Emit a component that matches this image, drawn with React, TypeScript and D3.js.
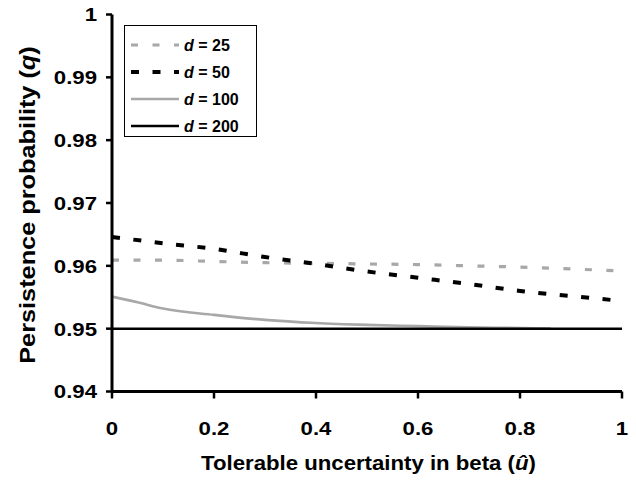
import React from "react";
import * as d3 from "d3";

const xs = [0, 0.1, 0.2, 0.3, 0.4, 0.5, 0.6, 0.7, 0.8, 0.9, 1.0];
const d25 = [0.9609, 0.9609, 0.9607, 0.9605, 0.9604, 0.9603, 0.9602, 0.96, 0.9598, 0.9595, 0.9592];
const d50 = [0.9646, 0.9636, 0.9627, 0.9614, 0.9603, 0.9591, 0.9581, 0.9571, 0.956, 0.9552, 0.9544];
const xs100 = [0, 0.05, 0.1, 0.2, 0.3, 0.4, 0.5, 0.6, 0.7, 0.8, 0.86];
const d100 = [0.9551, 0.9542, 0.9532, 0.9522, 0.9514, 0.9509, 0.9506, 0.9504, 0.9502, 0.9501, 0.95];
const d200 = [0.95, 0.95, 0.95, 0.95, 0.95, 0.95, 0.95, 0.95, 0.95, 0.95, 0.95];

const xTicks = [0, 0.2, 0.4, 0.6, 0.8, 1];
const xTickLabels = ["0", "0.2", "0.4", "0.6", "0.8", "1"];
const yTicks = [0.94, 0.95, 0.96, 0.97, 0.98, 0.99, 1];
const yTickLabels = ["0.94", "0.95", "0.96", "0.97", "0.98", "0.99", "1"];
const legendLabels = ["25", "50", "100", "200"];

const FONT = "'Liberation Sans', Arial, sans-serif";
const SX = 1.17;

export default function App() {
  const W = 636, H = 483;
  const x = d3.scaleLinear().domain([0, 1]).range([112, 622]);
  const y = d3.scaleLinear().domain([0.94, 1]).range([391.5, 14.5]);
  const line = (xv: number[], yv: number[]) =>
    d3.line<number>().x((_, i) => x(xv[i])).y((v) => y(v)).curve(d3.curveMonotoneX)(yv) || "";

  const series = [
    { key: "25", xv: xs, yv: d25, stroke: "#a8a8a8", w: 3.2, dash: "7,14.5" },
    { key: "50", xv: xs, yv: d50, stroke: "#000", w: 4, dash: "8,13.5" },
    { key: "100", xv: xs100, yv: d100, stroke: "#a8a8a8", w: 2.6, dash: undefined },
    { key: "200", xv: xs, yv: d200, stroke: "#000", w: 2.5, dash: undefined },
  ];
  const drawOrder = [2, 3, 0, 1];

  return (
    <svg width={W} height={H} style={{ display: "block", position: "absolute", left: 0, top: 0, background: "#fff" }}>
      <rect x={0} y={0} width={W} height={H} fill="#fff" />
      {drawOrder.map((i) => {
        const s = series[i];
        return (
          <path key={s.key} d={line(s.xv, s.yv)} fill="none" stroke={s.stroke}
            strokeWidth={s.w} strokeDasharray={s.dash} />
        );
      })}
      {/* axes */}
      <line x1={x(0)} x2={x(0)} y1={y(1)} y2={y(0.94)} stroke="#000" strokeWidth={3} />
      <line x1={x(0)} x2={x(1)} y1={y(0.94)} y2={y(0.94)} stroke="#000" strokeWidth={3} />
      {yTicks.map((t, i) => (
        <g key={"y" + i}>
          <line x1={x(0) - 6} x2={x(0)} y1={y(t)} y2={y(t)} stroke="#000" strokeWidth={2.5} />
          <text transform={`translate(97,${y(t)}) scale(${SX},1)`} dy="0.36em" textAnchor="end"
            fontFamily={FONT} fontWeight="bold" fontSize={19}>
            {yTickLabels[i]}
          </text>
        </g>
      ))}
      {xTicks.map((t, i) => (
        <g key={"x" + i}>
          <line x1={x(t)} x2={x(t)} y1={y(0.94)} y2={y(0.94) + 7} stroke="#000" strokeWidth={2.5} />
          <text transform={`translate(${x(t)},435) scale(${SX},1)`} textAnchor="middle"
            fontFamily={FONT} fontWeight="bold" fontSize={19}>
            {xTickLabels[i]}
          </text>
        </g>
      ))}
      <text transform="translate(368.5,470) scale(1.11,1)" textAnchor="middle" fontFamily={FONT} fontWeight="bold" fontSize={20}>
        Tolerable uncertainty in beta (<tspan fontStyle="italic">û</tspan>)
      </text>
      <text transform="translate(35,205) rotate(-90) scale(1.15,1)" textAnchor="middle" fontFamily={FONT} fontWeight="bold" fontSize={22}>
        Persistence probability (<tspan fontStyle="italic">q</tspan>)
      </text>
      {/* legend */}
      <rect x={124.5} y={25.5} width={132} height={111} fill="#fff" stroke="#000" strokeWidth={1} />
      {series.map((s, i) => {
        const ly = 45 + i * 27;
        return (
          <g key={"lg" + i}>
            <line x1={131} x2={179} y1={ly} y2={ly} stroke={s.stroke} strokeWidth={s.w} strokeDasharray={s.dash} />
            <text x={184} y={ly} dy="0.36em" fontFamily={FONT} fontWeight="bold" fontSize={16}>
              <tspan fontStyle="italic">d</tspan> = {legendLabels[i]}
            </text>
          </g>
        );
      })}
    </svg>
  );
}
